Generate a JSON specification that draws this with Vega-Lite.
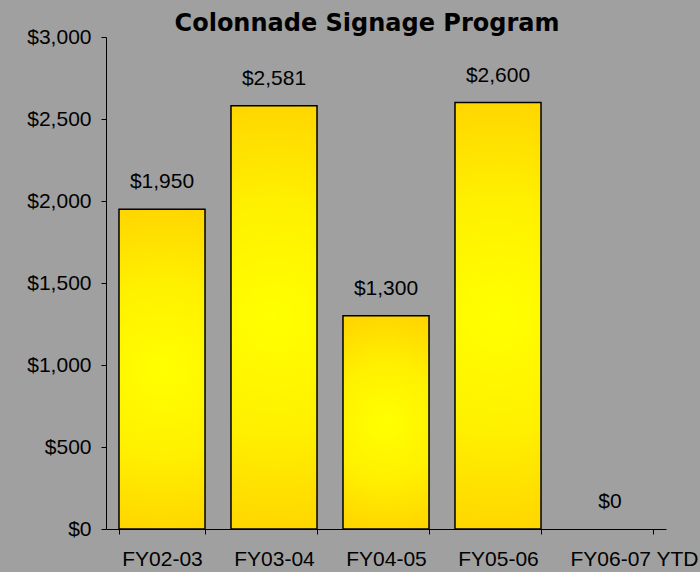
{
  "$schema": "https://vega.github.io/schema/vega-lite/v6.json",
  "autosize": "none",
  "width": 560,
  "height": 492,
  "padding": {"left": 106, "top": 37, "right": 34, "bottom": 43},
  "background": "#a0a0a0",
  "title": {
    "text": "Colonnade Signage Program",
    "font": "DejaVu Sans",
    "fontSize": 24,
    "fontWeight": "bold",
    "color": "#000000",
    "anchor": "middle",
    "frame": "group",
    "baseline": "alphabetic",
    "dx": -19,
    "dy": 21,
    "offset": -8
  },
  "data": {
    "values": [
      {"year": "FY02-03", "amount": 1950},
      {"year": "FY03-04", "amount": 2581},
      {"year": "FY04-05", "amount": 1300},
      {"year": "FY05-06", "amount": 2600},
      {"year": "FY06-07 YTD", "amount": 0}
    ]
  },
  "encoding": {
    "x": {
      "field": "year",
      "type": "nominal",
      "sort": null,
      "scale": {"paddingInner": 0.232, "paddingOuter": 0.116},
      "axis": {
        "title": null,
        "labelAngle": 0,
        "tickBand": "extent",
        "labelFont": "Liberation Sans",
        "labelFontSize": 21,
        "labelColor": "#000000",
        "labelPadding": 14,
        "labelOffset": {"expr": "datum.value == 'FY06-07 YTD' ? 24 : 0"},
        "domainColor": "#000000",
        "tickColor": "#000000",
        "tickSize": 5
      }
    },
    "y": {
      "field": "amount",
      "type": "quantitative",
      "scale": {"domain": [0, 3000], "nice": false},
      "axis": {
        "title": null,
        "values": [0, 500, 1000, 1500, 2000, 2500, 3000],
        "format": "$,.0f",
        "grid": false,
        "labelFont": "Liberation Sans",
        "labelFontSize": 21,
        "labelColor": "#000000",
        "labelPadding": 10,
        "domainColor": "#000000",
        "tickColor": "#000000",
        "tickSize": 5
      }
    }
  },
  "layer": [
    {
      "mark": {
        "type": "bar",
        "stroke": "#000000",
        "strokeWidth": 1.5,
        "color": {
          "gradient": "radial",
          "x1": 0.5, "y1": 0.5, "r1": 0,
          "x2": 0.5, "y2": 0.5, "r2": 0.6,
          "stops": [
            {"offset": 0, "color": "#ffff00"},
            {"offset": 0.45, "color": "#fff000"},
            {"offset": 1, "color": "#ffcc00"}
          ]
        }
      },
      "transform": [{"filter": "datum.amount > 0"}]
    },
    {
      "mark": {
        "type": "text",
        "baseline": "middle",
        "dy": -27,
        "font": "Liberation Sans",
        "fontSize": 21,
        "color": "#000000"
      },
      "encoding": {
        "text": {"field": "amount", "type": "quantitative", "format": "$,.0f"}
      }
    }
  ],
  "config": {"view": {"stroke": null}}
}
